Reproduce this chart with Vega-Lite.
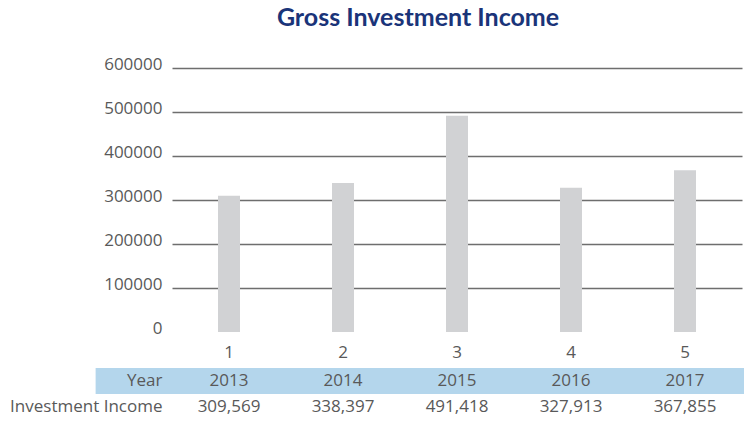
{
  "$schema": "https://vega.github.io/schema/vega-lite/v6.json",
  "padding": {"left": 9, "top": 6, "right": 0, "bottom": 0},
  "background": "white",
  "config": {
    "view": {"stroke": null},
    "font": "Open Sans",
    "concat": {"spacing": 8}
  },
  "datasets": {
    "income": [
      {"idx": 1, "year": "2013", "income": 309569, "label": "309,569"},
      {"idx": 2, "year": "2014", "income": 338397, "label": "338,397"},
      {"idx": 3, "year": "2015", "income": 491418, "label": "491,418"},
      {"idx": 4, "year": "2016", "income": 327913, "label": "327,913"},
      {"idx": 5, "year": "2017", "income": 367855, "label": "367,855"}
    ],
    "band": [{"row": "Year"}]
  },
  "vconcat": [
    {
      "width": 570,
      "height": 264,
      "title": {
        "text": "Gross Investment Income",
        "font": "Lato",
        "fontSize": 25,
        "fontWeight": "bold",
        "color": "#1a3479",
        "anchor": "middle",
        "dx": -39,
        "offset": 24
      },
      "data": {"name": "income"},
      "mark": {"type": "bar", "width": 22, "color": "#d1d2d4"},
      "encoding": {
        "x": {
          "field": "idx",
          "type": "ordinal",
          "scale": {"paddingInner": 0, "paddingOuter": 0},
          "axis": {
            "title": null,
            "domain": false,
            "ticks": false,
            "labelAngle": 0,
            "labelFontSize": 17,
            "labelColor": "#595959",
            "labelPadding": 12,
            "grid": false
          }
        },
        "y": {
          "field": "income",
          "type": "quantitative",
          "scale": {"domain": [0, 600000], "nice": false},
          "axis": {
            "title": null,
            "values": [0, 100000, 200000, 300000, 400000, 500000, 600000],
            "format": "d",
            "domain": false,
            "ticks": false,
            "labelFontSize": 17,
            "labelColor": "#595959",
            "labelPadding": 10,
            "labelOffset": -4,
            "grid": true,
            "gridColor": "#6e6e6e",
            "gridWidth": 1.3,
            "gridOpacity": {"condition": {"test": "datum.value === 0", "value": 0}, "value": 1}
          }
        }
      }
    },
    {
      "width": 570,
      "height": 52,
      "layer": [
        {
          "data": {"name": "band"},
          "mark": {"type": "rect", "color": "#b4d6ec"},
          "encoding": {
            "x": {"datum": -0.17, "type": "quantitative"},
            "x2": {"datum": 5.52},
            "y": {"field": "row", "type": "nominal"}
          }
        },
        {
          "data": {"name": "income"},
          "mark": {"type": "text", "fontSize": 17, "color": "#595959"},
          "encoding": {
            "x": {"field": "idx", "type": "quantitative"},
            "y": {"datum": "Year", "type": "nominal"},
            "text": {"field": "year"}
          }
        },
        {
          "data": {"name": "income"},
          "mark": {"type": "text", "fontSize": 17, "color": "#595959"},
          "encoding": {
            "x": {"field": "idx", "type": "quantitative"},
            "y": {"datum": "Investment Income", "type": "nominal"},
            "text": {"field": "label"}
          }
        }
      ],
      "encoding": {
        "x": {
          "type": "quantitative",
          "scale": {"domain": [0.5, 5.5], "nice": false, "zero": false},
          "axis": null
        },
        "y": {
          "type": "nominal",
          "scale": {"domain": ["Year", "Investment Income"], "paddingInner": 0, "paddingOuter": 0},
          "axis": {
            "title": null,
            "domain": false,
            "ticks": false,
            "grid": false,
            "labelFontSize": 17,
            "labelColor": "#595959",
            "labelPadding": 10
          }
        }
      }
    }
  ]
}
